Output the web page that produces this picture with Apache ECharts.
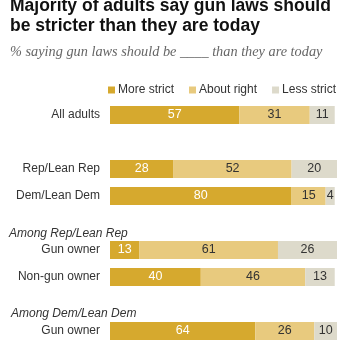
<!DOCTYPE html>
<html>
<head>
<meta charset="utf-8">
<script src="https://cdn.jsdelivr.net/npm/echarts@6/dist/echarts.min.js"></script>
<style>
  html, body { margin: 0; padding: 0; background: #fff; }
  #chart { width: 350px; height: 350px; }
</style>
</head>
<body>
<div id="chart"></div>
<script>
  // rows, top to bottom; blank rows hold the section headings
  var categories = ['All adults', '', 'Rep/Lean Rep', 'Dem/Lean Dem', '', 'Gun owner', 'Non-gun owner', '', 'Gun owner'];
  var moreStrict = [57, null, 28, 80, null, 13, 40, null, 64];
  var aboutRight = [31, null, 52, 15, null, 61, 46, null, 26];
  var lessStrict = [11, null, 20, 4, null, 26, 13, null, 10];
  var seriesNames = ['More strict', 'About right', 'Less strict'];
  var sectionHeads = ['Among Rep/Lean Rep', 'Among Dem/Lean Dem'];

  var myChart = echarts.init(document.getElementById('chart'));

  function makeSeries(name, values, color, labelColor) {
    return {
      name: name,
      type: 'bar',
      stack: 'all',
      barWidth: 18,
      itemStyle: { color: color },
      label: {
        show: true,
        position: 'inside',
        color: labelColor,
        fontSize: 12.5,
        fontFamily: 'Liberation Sans'
      },
      data: values
    };
  }

  var option = {
    animation: false,
    textStyle: { fontFamily: 'Liberation Sans' },
    grid: { left: 110, right: 13, top: 101.5, bottom: 5.5 },
    legend: {
      data: seriesNames,
      left: 103,
      top: 79,
      itemWidth: 7,
      itemHeight: 7,
      itemGap: 15,
      icon: 'rect',
      textStyle: { fontSize: 12, color: '#333', padding: [0, 0, 0, -2] }
    },
    graphic: [
      { type: 'text', left: 10, top: -3, style: { text: 'Majority of adults say gun laws should', font: 'bold 17.5px "Liberation Sans"', fill: '#111' } },
      { type: 'text', left: 10, top: 17, style: { text: 'be stricter than they are today', font: 'bold 17.5px "Liberation Sans"', fill: '#111' } },
      { type: 'text', left: 10, top: 45, style: { text: '% saying gun laws should be ____ than they are today', font: 'italic 14.3px "Liberation Serif"', fill: '#666' } },
      { type: 'text', left: 9, top: 228, style: { text: sectionHeads[0], font: 'italic 12px "Liberation Sans"', fill: '#333' } },
      { type: 'text', left: 11, top: 308, style: { text: sectionHeads[1], font: 'italic 12px "Liberation Sans"', fill: '#333' } }
    ],
    xAxis: {
      type: 'value',
      min: 0,
      max: 100,
      show: false
    },
    yAxis: {
      type: 'category',
      inverse: true,
      data: categories.map(function (c, i) { return String(i); }),
      axisLine: { show: false },
      axisTick: { show: false },
      axisLabel: {
        margin: 10,
        fontSize: 12,
        color: '#333',
        formatter: function (v) { return categories[+v]; }
      }
    },
    series: [
      makeSeries(seriesNames[0], moreStrict, '#d6a92e', '#fff'),
      makeSeries(seriesNames[1], aboutRight, '#e8ca7e', '#333'),
      makeSeries(seriesNames[2], lessStrict, '#dddacb', '#333')
    ]
  };
  myChart.setOption(option);
</script>
</body>
</html>
